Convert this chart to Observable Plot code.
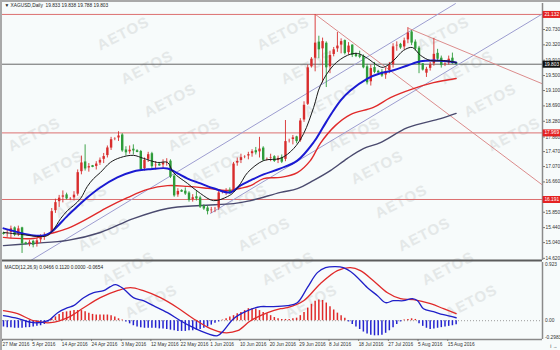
<!DOCTYPE html>
<html><head><meta charset="utf-8">
<script src="https://cdn.jsdelivr.net/npm/d3@7"></script>
<script src="https://cdn.jsdelivr.net/npm/@observablehq/plot@0.6"></script>
<style>
html,body{margin:0;padding:0;}
body{width:560px;height:350px;overflow:hidden;background:#f7fbfb;position:relative;font-family:"Liberation Sans",Arial,sans-serif;}
#wm{position:absolute;left:0;top:0;width:560px;height:350px;overflow:hidden;}
.wm{position:absolute;font:bold 15px "Liberation Sans",Arial,sans-serif;color:#e4e8e8;transform:translate(-50%,-50%) rotate(-27deg);white-space:nowrap;letter-spacing:1px;}
#p1{position:absolute;left:0;top:0;}
#p2{position:absolute;left:0;top:260px;}
#edge{position:absolute;left:0;top:0;width:560px;height:350px;box-sizing:border-box;border-top:2px solid #a9a9a9;border-left:2px solid #a9a9a9;pointer-events:none;}
</style></head><body>
<div id="wm"></div>
<div id="p1"></div>
<div id="p2"></div>
<div id="edge"></div>
<script>
// ---------- data ----------
const header = "\u25BC XAGUSD,Daily  19.833 19.838 19.788 19.803";
const macdHeader = "MACD(12,26,9) 0.0466 0.1120 0.0000 -0.0654";
const dateLabels = ["27 Mar 2016","5 Apr 2016","14 Apr 2016","24 Apr 2016","3 May 2016","12 May 2016","22 May 2016","1 Jun 2016","10 Jun 2016","20 Jun 2016","29 Jun 2016","8 Jul 2016","18 Jul 2016","27 Jul 2016","5 Aug 2016","15 Aug 2016"];
const dateLabelBar = [0,8,16,24,32,40,48,56,64,72,80,88,96,104,112,120];
const priceTicks = [20.730,20.320,19.910,19.500,19.100,18.690,18.280,17.860,17.470,17.070,16.660,15.850,15.440,15.040,14.620];
const levelLines = [21.132,17.969,16.191];
const lastPrice = 19.803;
const macdTicks = [0.923,0,-0.2983];
const macdTickLabels = ["0.923","0.00","-0.2983"];

const open = [
15.28,15.27,15.30,15.42,15.25,15.42,15.02,15.00,15.06,14.98,
15.10,15.18,15.24,15.30,15.88,16.12,16.24,16.30,16.20,16.22,
16.32,16.92,17.18,17.02,17.08,17.06,17.15,17.25,17.35,17.55,
17.80,17.82,17.90,17.50,17.45,17.52,17.48,17.46,17.00,17.25,
17.40,17.08,17.12,17.10,17.18,17.20,16.80,16.30,16.42,16.40,
16.35,16.18,16.25,16.22,16.00,15.95,15.88,15.92,15.95,16.38,
16.40,16.42,16.40,17.15,17.22,17.32,17.34,17.40,17.48,17.45,
17.55,17.25,17.28,17.32,17.22,17.30,17.25,17.75,17.78,17.85,
17.75,18.30,18.72,19.72,19.95,20.38,20.20,20.35,19.72,20.05,
20.20,20.30,20.42,20.10,20.30,20.05,20.02,20.00,19.72,19.32,
19.70,19.60,19.58,19.50,19.62,19.78,20.28,20.32,20.25,20.44,
20.65,20.38,20.22,19.80,19.55,19.68,19.80,20.08,19.95,19.78,
19.82,19.95,19.833];
const high = [
15.32,15.38,15.48,15.46,15.48,15.45,15.05,15.10,15.10,15.15,
15.25,15.30,15.28,15.95,16.20,16.30,16.42,16.36,16.24,16.40,
16.98,17.35,17.65,17.15,17.10,17.20,17.30,17.42,17.62,17.85,
17.84,18.00,17.95,17.60,17.62,17.65,17.52,17.50,17.30,17.45,
17.45,17.20,17.15,17.25,17.28,17.25,16.85,16.48,16.45,16.50,
16.40,16.32,16.40,16.28,16.05,16.02,15.98,15.98,16.42,16.42,
16.48,16.50,17.18,17.30,17.40,17.36,17.45,17.52,17.58,17.85,
17.60,17.30,17.40,17.36,17.35,17.38,18.30,17.80,17.90,17.88,
18.35,18.80,19.78,19.98,21.13,20.55,20.50,20.40,20.15,20.25,
20.65,20.48,20.45,20.38,20.32,20.10,20.15,20.05,19.80,19.78,
19.85,19.64,19.66,19.70,19.85,20.35,20.40,20.36,20.50,20.78,
20.70,20.45,20.28,19.82,19.72,19.85,20.49,20.20,20.02,19.84,
20.02,20.10,19.838];
const low = [
15.24,15.18,15.15,15.20,15.20,14.75,14.98,14.93,14.90,14.92,
15.02,15.10,15.22,15.28,15.82,15.98,16.10,16.18,16.16,16.15,
16.28,16.85,16.95,16.92,17.04,16.98,17.10,17.15,17.30,17.50,
17.76,17.74,17.45,17.35,17.40,17.38,17.44,16.98,16.95,17.18,
17.02,16.98,17.08,17.02,17.08,16.75,16.25,16.25,16.38,16.30,
16.12,16.12,16.15,15.95,15.90,15.78,15.82,15.84,15.90,16.34,
16.30,16.32,16.38,17.08,17.15,17.28,17.25,17.32,17.38,17.30,
17.20,17.22,17.20,17.18,17.15,17.15,17.20,17.70,17.65,17.68,
17.72,18.25,18.70,19.70,19.60,19.95,19.30,19.18,19.55,20.00,
20.12,20.08,20.05,20.05,19.98,19.98,19.95,19.68,19.25,19.22,
19.55,19.56,19.45,19.40,19.55,19.70,20.15,20.20,20.18,20.35,
20.30,20.15,19.55,19.62,19.45,19.62,19.75,19.88,19.70,19.74,
19.78,19.80,19.788];
const close = [
15.27,15.30,15.42,15.25,15.42,15.02,15.00,15.06,14.98,15.10,
15.18,15.24,15.26,15.88,16.12,16.24,16.30,16.22,16.22,16.32,
16.92,17.18,17.02,17.08,17.06,17.15,17.25,17.35,17.58,17.80,
17.82,17.90,17.50,17.45,17.52,17.50,17.46,17.00,17.25,17.40,
17.08,17.12,17.10,17.18,17.20,16.80,16.30,16.42,16.40,16.35,
16.18,16.25,16.22,16.00,15.95,15.88,15.92,15.95,16.38,16.40,
16.42,16.38,17.15,17.22,17.32,17.34,17.40,17.48,17.45,17.55,
17.25,17.28,17.32,17.22,17.30,17.20,17.75,17.78,17.85,17.75,
18.30,18.72,19.72,19.95,20.38,20.20,20.42,19.72,20.05,20.20,
20.30,20.42,20.10,20.30,20.05,20.02,20.00,19.72,19.32,19.70,
19.60,19.58,19.50,19.62,19.78,20.28,20.32,20.25,20.44,20.65,
20.38,20.22,19.80,19.66,19.68,19.80,20.08,19.95,19.78,19.82,
19.95,19.83,19.803];

// moving averages: [bar, price]
const maFast = [[0,15.31],[4.6,15.26],[10,15.2],[11.9,15.23],[13.5,15.39],[15.4,15.68],[17.3,15.9],[18.9,16.03],[20.8,16.22],[22.6,16.54],[24.3,16.75],[26.1,16.91],[28.8,17.18],[31.5,17.31],[35,17.37],[37.7,17.29],[41.5,17.18],[44.2,17.18],[45.8,16.91],[49.6,16.62],[53.1,16.35],[56.6,16.16],[60.4,16.27],[62,16.38],[63.9,16.62],[65.8,16.91],[70.1,17.23],[74.7,17.29],[78.2,17.55],[80.9,17.95],[83.6,18.65],[85.4,19.23],[88.9,19.77],[92.7,20.04],[95.4,20.09],[98.1,19.96],[100.8,19.77],[102.4,19.72],[105.1,19.9],[107.8,20.17],[110.2,20.25],[112.4,20.04],[115.1,19.9],[118.6,19.9],[122,19.85]];
const maMid = [[0,15.42],[8.1,15.23],[10.8,15.23],[12.7,15.31],[17.3,15.76],[21.6,16.16],[26.1,16.51],[30.7,16.78],[35,16.94],[39.6,17.0],[44.2,17.02],[46.9,16.89],[49.6,16.75],[53.1,16.62],[56.6,16.49],[61.2,16.38],[63.9,16.57],[66.6,16.7],[70.1,16.86],[74.7,17.02],[79.2,17.23],[83.6,17.72],[86,18.1],[88.5,18.5],[91,18.85],[93.5,19.1],[98.1,19.42],[101.6,19.56],[105.1,19.64],[108.9,19.77],[112.4,19.88],[115.9,19.9],[119.7,19.88],[122,19.85]];
const maSlow = [[0,15.18],[8.1,15.15],[12.7,15.28],[17.3,15.42],[22.6,15.68],[28,15.98],[33.4,16.24],[38.8,16.46],[44.2,16.56],[49.6,16.54],[55,16.49],[60.4,16.43],[63.9,16.49],[66.6,16.56],[70.1,16.75],[74.7,16.78],[79.2,16.91],[82.7,17.23],[85.4,17.69],[89.5,18.17],[93.5,18.46],[99.7,18.65],[104.3,18.91],[110.5,19.15],[115.9,19.31],[122,19.42]];
const maLong = [[0,14.96],[8.1,15.02],[17.3,15.1],[26.1,15.31],[35,15.68],[44.2,15.95],[53.1,16.03],[62,16.08],[66.6,16.16],[74.7,16.38],[79.2,16.48],[83.6,16.7],[88.1,16.96],[92.7,17.29],[97,17.55],[101.6,17.71],[108.9,18.11],[117.8,18.35],[122,18.49]];

// drawn trend lines: [bar, price]
const channelUpper = [[7.3,14.56],[121.8,21.42]];
const channelLower = [[55.8,15.82],[145.5,21.16]];
const resistSteep = [[84.1,21.13],[145.5,16.56]];
const resistAug = [[109.2,20.76],[145.5,19.27]];

// MACD
const macdMain = [[0,0.079],[4,0.032],[8,-0.032],[12,0],[14.6,0.127],[17.3,0.206],[18.9,0.238],[21.6,0.365],[24.3,0.444],[27,0.476],[28.8,0.54],[30.2,0.571],[32.3,0.508],[35,0.365],[37.7,0.317],[40.4,0.238],[44.2,0.127],[47.7,0],[51.2,-0.111],[55,-0.206],[57.7,-0.238],[59.3,-0.159],[62,0.032],[65.8,0.159],[69.3,0.222],[72,0.222],[76.5,0.238],[79.2,0.286],[81.9,0.524],[84.6,0.762],[86.8,0.841],[89.5,0.857],[91.6,0.841],[94.3,0.746],[98.1,0.524],[100.8,0.397],[103,0.286],[105.1,0.317],[107.8,0.317],[110.2,0.349],[111.6,0.317],[113.2,0.19],[115.9,0.143],[118.6,0.095],[122,0.0466]];
const macdSignal = [[0,0.159],[3.8,0.111],[8.1,0],[12.7,-0.032],[17.3,0.048],[21.6,0.206],[26.1,0.365],[30.7,0.476],[34.2,0.524],[37.7,0.476],[42.3,0.365],[46.9,0.206],[51.2,0.032],[55.8,-0.127],[59.3,-0.19],[63.1,-0.159],[66.6,0],[71.2,0.127],[74.7,0.19],[76.5,0.206],[80.9,0.317],[85.4,0.587],[90,0.794],[93.5,0.841],[96.2,0.794],[99.7,0.635],[103.5,0.444],[107,0.349],[110.5,0.333],[115.1,0.27],[118.6,0.19],[122,0.112]];
const macdHist = [
-0.10,-0.11,-0.11,-0.12,-0.12,-0.12,-0.11,-0.11,-0.10,-0.09,
-0.08,-0.06,-0.02,0.03,0.06,0.10,0.13,0.14,0.15,0.16,
0.16,0.16,0.14,0.12,0.10,0.09,0.09,0.09,0.09,0.08,
0.06,0.03,0.01,-0.02,-0.05,-0.08,-0.10,-0.11,-0.12,-0.12,
-0.12,-0.12,-0.13,-0.13,-0.14,-0.15,-0.16,-0.17,-0.17,-0.17,
-0.16,-0.16,-0.15,-0.14,-0.12,-0.10,-0.07,-0.04,-0.02,0.01,
0.03,0.06,0.08,0.11,0.13,0.16,0.19,0.19,0.18,0.16,
0.13,0.11,0.08,0.05,0.03,0.02,0.02,0.02,0.03,0.04,
0.08,0.13,0.20,0.26,0.31,0.33,0.32,0.28,0.22,0.17,
0.12,0.08,0.04,-0.02,-0.06,-0.10,-0.14,-0.18,-0.21,-0.23,
-0.24,-0.24,-0.23,-0.20,-0.16,-0.11,-0.06,-0.02,0.01,0.02,
0.03,0.02,-0.05,-0.09,-0.12,-0.14,-0.13,-0.12,-0.11,-0.10,
-0.09,-0.08,-0.0654];

// ---------- drawing ----------
const font = "Liberation Sans, Arial, sans-serif";
const FS = 4.8;
const UP = "#d82c2c", DN = "#2e9c3a";
const xDom = [-0.27, 145.28];
const X = {domain: xDom, range: [2, 542], axis: null};
const yPrice = [14.562, 21.424];
const yMacd = [-0.2983, 0.923];
const boxX = [145.45, 150.4];
const bars = open.map((o, i) => ({i, o, h: high[i], l: low[i], c: close[i]}));
const col = d => d.c >= d.o ? UP : DN;
const fx = d => d[0], fy = d => d[1];
const f3 = d3.format(".3f");

const p1 = Plot.plot({
  width: 560, height: 262, marginTop: 3, marginBottom: 2, marginLeft: 2, marginRight: 18,
  x: X,
  y: {domain: yPrice, range: [260, 3], axis: null},
  style: {background: "transparent", fontFamily: font, overflow: "visible"},
  marks: [
    Plot.ruleY(levelLines, {stroke: "#dc7070", strokeWidth: 1}),
    Plot.ruleY([lastPrice], {stroke: "#666", strokeWidth: 1}),
    Plot.line(channelUpper, {x: fx, y: fy, stroke: "#9d9dd0", strokeWidth: 1, clip: true}),
    Plot.line(channelLower, {x: fx, y: fy, stroke: "#9d9dd0", strokeWidth: 1, clip: true}),
    Plot.line(resistSteep, {x: fx, y: fy, stroke: "#dc8c8c", strokeWidth: 1, clip: true}),
    Plot.line(resistAug, {x: fx, y: fy, stroke: "#dc8c8c", strokeWidth: 1, clip: true}),
    Plot.line(maLong, {x: fx, y: fy, stroke: "#4a4a6e", strokeWidth: 1.4, curve: "catmull-rom"}),
    Plot.line(maSlow, {x: fx, y: fy, stroke: "#e02a2a", strokeWidth: 1.4, curve: "catmull-rom"}),
    Plot.ruleX(bars, {x: "i", y1: "l", y2: "h", stroke: col, strokeWidth: 0.9}),
    Plot.ruleX(bars, {x: "i", y1: "o", y2: "c", stroke: col, strokeWidth: 2.4, insetTop: -0.5, insetBottom: -0.5}),
    Plot.line(maMid, {x: fx, y: fy, stroke: "#1a1ad2", strokeWidth: 2, curve: "catmull-rom"}),
    Plot.line(maFast, {x: fx, y: fy, stroke: "#1a1a1a", strokeWidth: 1, curve: "catmull-rom"}),
    Plot.ruleY([yPrice[0]], {stroke: "#5c5c5c", strokeWidth: 2}),
    Plot.ruleX([xDom[1]], {stroke: "#8a8a8a", strokeWidth: 1.5}),
    Plot.axisY(priceTicks, {anchor: "right", tickFormat: f3, tickSize: 2, tickPadding: 1, fontSize: FS, fill: "#333", stroke: "#777"}),
    Plot.ruleY(levelLines, {x1: boxX[0], x2: boxX[1], stroke: "#e42222", strokeWidth: 7}),
    Plot.ruleY([lastPrice], {x1: boxX[0], x2: boxX[1], stroke: "#111", strokeWidth: 7}),
    Plot.text(levelLines.concat([lastPrice]), {x: boxX[0] + 0.35, y: d => d, text: f3, fill: "white", textAnchor: "start", fontSize: FS}),
    Plot.text([header], {frameAnchor: "top-left", dx: 2, dy: 0, textAnchor: "start", lineAnchor: "top", fontSize: FS, fill: "#222"})
  ]
});
document.getElementById("p1").append(p1);

const histRows = macdHist.map((v, i) => ({i, v}));
const p2 = Plot.plot({
  width: 560, height: 90, marginTop: 2, marginBottom: 11, marginLeft: 2, marginRight: 18,
  x: X,
  y: {domain: yMacd, range: [79, 2], axis: null},
  style: {background: "transparent", fontFamily: font, overflow: "visible"},
  marks: [
    Plot.ruleY([0], {stroke: "#9a9a9a", strokeDasharray: "1,2"}),
    Plot.ruleX(histRows, {x: "i", y1: 0, y2: "v", stroke: d => d.v >= 0 ? "#e02a2a" : "#2424d0", strokeWidth: 1.5}),
    Plot.line(macdSignal, {x: fx, y: fy, stroke: "#e02a2a", strokeWidth: 1.3, curve: "catmull-rom"}),
    Plot.line(macdMain, {x: fx, y: fy, stroke: "#2020c8", strokeWidth: 1.3, curve: "catmull-rom"}),
    Plot.ruleY([yMacd[0]], {stroke: "#8a8a8a", strokeWidth: 1.5}),
    Plot.ruleX([xDom[1]], {stroke: "#8a8a8a", strokeWidth: 1.5}),
    Plot.axisX(dateLabelBar, {anchor: "bottom", tickSize: 2, tickPadding: 1, fontSize: FS, fill: "#333", stroke: "#777",
      textAnchor: "start", dx: -1, tickFormat: d => dateLabels[dateLabelBar.indexOf(d)]}),
    Plot.text([macdTicks[0]], {x: boxX[0] + 0.5, y: d => d, text: () => macdTickLabels[0], textAnchor: "start", lineAnchor: "top", dy: 0.5, fontSize: FS, fill: "#333"}),
    Plot.text([macdTicks[1]], {x: boxX[0] + 0.5, y: d => d, text: () => macdTickLabels[1], textAnchor: "start", lineAnchor: "middle", fontSize: FS, fill: "#333"}),
    Plot.text([macdTicks[2]], {x: boxX[0] + 0.5, y: d => d, text: () => macdTickLabels[2], textAnchor: "start", lineAnchor: "bottom", dy: -0.5, fontSize: FS, fill: "#333"}),
    Plot.text([macdHeader], {frameAnchor: "top-left", dx: 2, dy: 3, textAnchor: "start", lineAnchor: "top", fontSize: FS, fill: "#222"})
  ]
});
document.getElementById("p2").append(p2);

// watermark (decoration), kept whole inside the page
const wm = document.getElementById("wm");
for (let r = -2; r < 12; r++) {
  for (let c = -2; c < 5; c++) {
    const x = 123 + c * 160 + r * 23.5, y = 33 + r * 33.5;
    if (x < 32 || x > 528 || y < 20 || y > 330) continue;
    const s = document.createElement("div");
    s.className = "wm"; s.textContent = "AETOS";
    s.style.left = x + "px"; s.style.top = y + "px";
    wm.append(s);
  }
}
</script>
</body></html>
